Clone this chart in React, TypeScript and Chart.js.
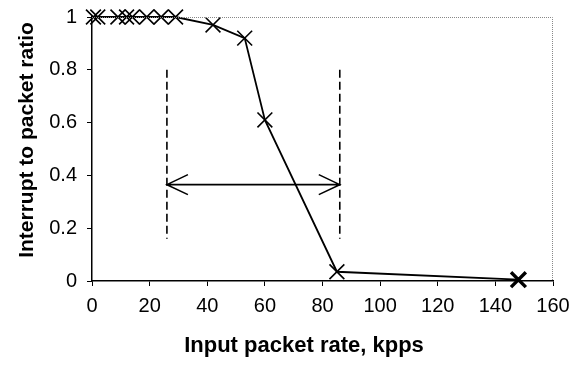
import React, { useEffect, useRef } from "react";
import { Chart, registerables } from "chart.js";

Chart.register(...registerables);

const rateKpps = [0.5, 2, 9, 12, 14, 19, 24, 29, 42, 53, 60, 85, 148];
const interruptRatio = [1, 1, 1, 1, 1, 1, 1, 1, 0.97, 0.92, 0.61, 0.035, 0.005];
const markerWidths = [1.6, 1.6, 1.6, 1.6, 1.6, 1.6, 1.6, 1.6, 1.6, 1.6, 1.6, 1.6, 3.4];
const xTicks = [0, 20, 40, 60, 80, 100, 120, 140, 160];
const yTicks = [0, 0.2, 0.4, 0.6, 0.8, 1];
const rangeBounds = [26, 86];
const rangeDashY = [0.16, 0.8];
const arrowY = [0.365];
const xTitle = "Input packet rate, kpps";
const yTitle = "Interrupt to packet ratio";

const FONT = "'Liberation Sans', Arial, sans-serif";

const overlayPlugin = {
  id: "overlay",
  afterDraw(chart: any) {
    const { ctx, chartArea, scales } = chart;
    const xs = scales.x;
    const ys = scales.y;
    ctx.save();
    // dotted top/right border
    ctx.strokeStyle = "#888";
    ctx.lineWidth = 1;
    ctx.setLineDash([1, 1]);
    ctx.beginPath();
    ctx.moveTo(chartArea.left, chartArea.top + 0.5);
    ctx.lineTo(chartArea.right - 0.5, chartArea.top + 0.5);
    ctx.lineTo(chartArea.right - 0.5, chartArea.bottom);
    ctx.stroke();
    // dashed vertical range lines
    ctx.strokeStyle = "#000";
    ctx.lineWidth = 1.6;
    ctx.setLineDash([8, 4]);
    for (const b of rangeBounds) {
      const px = xs.getPixelForValue(b);
      ctx.beginPath();
      ctx.moveTo(px, ys.getPixelForValue(rangeDashY[1]));
      ctx.lineTo(px, ys.getPixelForValue(rangeDashY[0]));
      ctx.stroke();
    }
    // double arrow
    ctx.setLineDash([]);
    ctx.lineWidth = 1.6;
    const ay = ys.getPixelForValue(arrowY[0]);
    const x1 = xs.getPixelForValue(rangeBounds[0]);
    const x2 = xs.getPixelForValue(rangeBounds[1]);
    ctx.beginPath();
    ctx.moveTo(x1, ay);
    ctx.lineTo(x2, ay);
    ctx.moveTo(x1 + 21, ay - 10);
    ctx.lineTo(x1, ay);
    ctx.lineTo(x1 + 21, ay + 10);
    ctx.moveTo(x2 - 21, ay - 10);
    ctx.lineTo(x2, ay);
    ctx.lineTo(x2 - 21, ay + 10);
    ctx.stroke();
    // axis titles
    ctx.fillStyle = "#000";
    ctx.textAlign = "center";
    ctx.textBaseline = "middle";
    ctx.font = `bold 22px ${FONT}`;
    ctx.fillText(xTitle, 304, 346);
    ctx.translate(27, 140);
    ctx.rotate(-Math.PI / 2);
    ctx.font = `bold 21px ${FONT}`;
    ctx.fillText(yTitle, 0, 0);
    ctx.restore();
  },
};

export default function App() {
  const ref = useRef<HTMLCanvasElement>(null);
  useEffect(() => {
    if (!ref.current) return;
    const chart = new Chart(ref.current, {
      type: "scatter",
      data: {
        datasets: [
          {
            data: rateKpps.map((x, i) => ({ x, y: interruptRatio[i] })),
            showLine: true,
            clip: false,
            borderColor: "#000",
            borderWidth: 1.8,
            pointStyle: "crossRot",
            pointRadius: 10.5,
            pointBorderWidth: markerWidths,
            pointBorderColor: "#000",
            pointBackgroundColor: "#000",
          } as any,
        ],
      },
      options: {
        animation: false,
        responsive: false,
        devicePixelRatio: 1,
        layout: { padding: { top: 17, right: 18, left: 0, bottom: 0 } },
        plugins: { legend: { display: false }, tooltip: { enabled: false } },
        scales: {
          x: {
            type: "linear",
            min: 0,
            max: 160,
            afterBuildTicks: (s: any) => {
              s.ticks = xTicks.map((v) => ({ value: v }));
            },
            afterFit: (s: any) => {
              s.height = 84;
              s.paddingLeft = 0;
              s.paddingRight = 0;
            },
            border: { color: "#000", width: 1.5 },
            grid: { drawOnChartArea: false, drawTicks: true, tickLength: 5, color: "#000" },
            ticks: { color: "#000", font: { family: FONT, size: 20 }, padding: 8, maxRotation: 0 },
            title: { display: false },
          },
          y: {
            type: "linear",
            min: 0,
            max: 1,
            afterBuildTicks: (s: any) => {
              s.ticks = yTicks.map((v) => ({ value: v }));
            },
            afterFit: (s: any) => {
              s.width = 92;
              s.paddingTop = 0;
              s.paddingBottom = 0;
            },
            border: { color: "#000", width: 1.5 },
            grid: { drawOnChartArea: false, drawTicks: true, tickLength: 5, color: "#000" },
            ticks: {
              color: "#000",
              font: { family: FONT, size: 20 },
              padding: 10,
              callback: (v: any) => String(v),
            },
            title: { display: false },
          },
        },
      },
      plugins: [overlayPlugin],
    });
    return () => chart.destroy();
  }, []);
  return (
    <div style={{ position: "fixed", left: 0, top: 0, width: 571, height: 365, background: "#fff" }}>
      <canvas ref={ref} width={571} height={365} />
    </div>
  );
}
